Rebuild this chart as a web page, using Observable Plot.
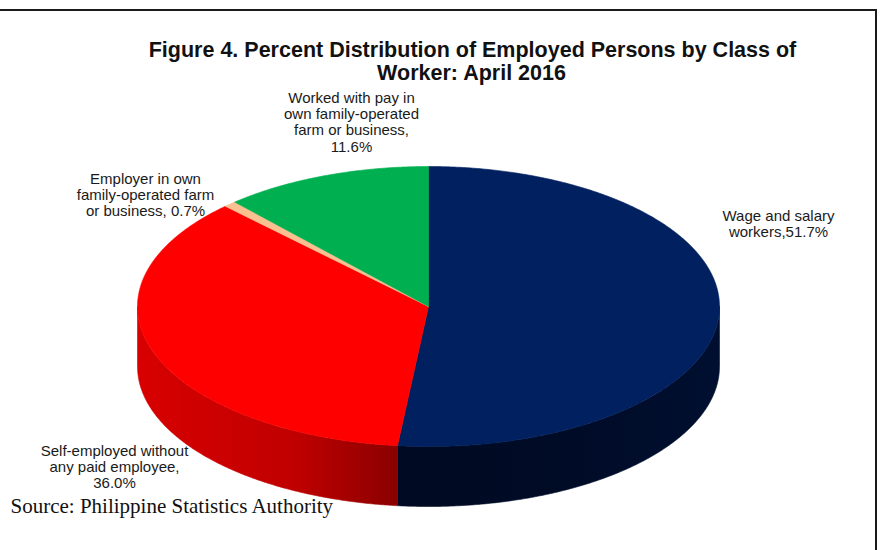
<!DOCTYPE html>
<html><head><meta charset="utf-8">
<script src="https://cdn.jsdelivr.net/npm/d3@7"></script>
<script src="https://cdn.jsdelivr.net/npm/@observablehq/plot@0.6"></script>
<style>
body{margin:0;background:#fff;}
#wrap{position:relative;width:888px;height:550px;overflow:hidden;}
#border{position:absolute;left:0;top:9px;width:875px;height:600px;border-top:2px solid #1a1a1a;border-right:2px solid #1a1a1a;pointer-events:none;}
#chart{position:absolute;left:0;top:0;}
</style></head><body><div id="wrap"><div id="chart"></div><div id="border"></div></div>
<script>
// ---- data ----
const titleLines = ["Figure 4. Percent Distribution of Employed Persons by Class of", "Worker: April 2016"];
const sourceText = "Source: Philippine Statistics Authority";
const categories = ["Wage and salary workers", "Self-employed without any paid employee", "Employer in own family-operated farm or business", "Worked with pay in own family-operated farm or business"];
const shares = [51.7, 36.0, 0.7, 11.6];
// label templates ({v} = value)
const labelTemplates = [
  ["Wage and salary", "workers,{v}%"],
  ["Self-employed without", "any paid employee,", "{v}%"],
  ["Employer in own", "family-operated farm", "or business, {v}%"],
  ["Worked with pay in", "own family-operated", "farm or business,", "{v}%"]
];
const topColors = ["#002060", "#FF0000", "#FAC090", "#00B050"];
const sideFills = ["url(#sideNavy)", "url(#sideRed)", "url(#sideTan)", "url(#sideGreen)"];

// ---- layout ----
const CX = 428, CY = 306, RX = 291, RY = 140, DEPTH_PX = 60;
const depth = DEPTH_PX / RY;
const labelFont = 15, labelLH = 1.1;
// label placement: [center x px, first baseline px]
const labelPlace = [[778, 220], [114, 455], [145, 183], [351, 102]];
const titleFont = 21.5;
const titlePlace = [[472, 56], [471, 79]];
const sourceFont = 21;

const toUx = px => (px - CX) / RX;
const toUy = py => (CY - py) / RY;

const slices = [];
let acc = 0;
shares.forEach((v, i) => {
  const a0 = acc / 100 * 2 * Math.PI; acc += v;
  const a1 = acc / 100 * 2 * Math.PI;
  slices.push({i, a0, a1});
});
const step = 0.4 * Math.PI / 180;
function arc(a0, a1, dy) {
  const n = Math.max(2, Math.ceil((a1 - a0) / step));
  return d3.range(n + 1).map(k => { const a = a0 + (a1 - a0) * k / n; return [Math.sin(a), Math.cos(a) - dy]; });
}
const tops = slices.flatMap(s => [[0, 0], ...arc(s.a0, s.a1, 0), [0, 0]]
  .map(([x, y]) => ({x, y, id: "t" + s.i, fill: topColors[s.i]})));
const sides = slices.flatMap(s => {
  const lo = Math.max(s.a0, Math.PI / 2), hi = Math.min(s.a1, 1.5 * Math.PI);
  if (hi <= lo) return [];
  const pts = [...arc(lo, hi, 0), ...arc(lo, hi, depth).reverse()];
  pts.push(pts[0]);
  return pts.map(([x, y]) => ({x, y, id: "s" + s.i, fill: sideFills[s.i]}));
});
const labels = labelTemplates.map((t, i) => ({
  text: t.map(l => l.replace("{v}", shares[i].toFixed(1))).join("\n"),
  x: toUx(labelPlace[i][0]),
  y: toUy(labelPlace[i][1] - 0.71 * labelLH * labelFont)
}));
const titles = titleLines.map((t, i) => ({text: t, x: toUx(titlePlace[i][0]), y: toUy(titlePlace[i][1])}));
const sources = [{text: sourceText, x: toUx(10), y: toUy(512)}];

const svg = Plot.plot({
  width: 888, height: 550,
  margin: 0,
  x: {domain: [-1, 1], range: [CX - RX, CX + RX], axis: null},
  y: {domain: [-1, 1], range: [CY + RY, CY - RY], axis: null},
  color: {type: "identity"},
  style: {background: "transparent"},
  marks: [
    Plot.line(sides, {x: "x", y: "y", z: "id", fill: "fill", stroke: "fill", strokeWidth: 0.6, curve: "linear"}),
    Plot.line(tops, {x: "x", y: "y", z: "id", fill: "fill", stroke: "fill", strokeWidth: 0.6, curve: "linear"}),
    Plot.text(labels, {x: "x", y: "y", text: "text", textAnchor: "middle", lineAnchor: "top",
      lineHeight: labelLH, fontSize: labelFont, fontFamily: "'Liberation Sans', Arial, sans-serif", fill: "#1a1a1a"}),
    Plot.text(titles, {x: "x", y: "y", text: "text", textAnchor: "middle", lineAnchor: "bottom",
      fontSize: titleFont, fontWeight: "bold", fontFamily: "'Liberation Sans', Arial, sans-serif", fill: "#111"}),
    Plot.text(sources, {x: "x", y: "y", text: "text", textAnchor: "start", lineAnchor: "bottom",
      fontSize: sourceFont, fontFamily: "'Liberation Serif', 'Times New Roman', serif", fill: "#111"})
  ]
});

d3.select(svg).insert("defs", ":first-child").html(`
  <linearGradient id="sideRed" gradientUnits="userSpaceOnUse" x1="${CX - RX}" y1="0" x2="${CX - 30}" y2="0">
    <stop offset="0" stop-color="#d80000"/><stop offset="0.6" stop-color="#c00000"/><stop offset="1" stop-color="#8a0000"/>
  </linearGradient>
  <linearGradient id="sideNavy" gradientUnits="userSpaceOnUse" x1="${CX - 30}" y1="0" x2="${CX + RX}" y2="0">
    <stop offset="0" stop-color="#000a22"/><stop offset="0.5" stop-color="#000b26"/><stop offset="1" stop-color="#000f30"/>
  </linearGradient>
  <linearGradient id="sideTan"><stop offset="0" stop-color="#c08a60"/></linearGradient>
  <linearGradient id="sideGreen"><stop offset="0" stop-color="#007a38"/></linearGradient>
`);
document.getElementById("chart").appendChild(svg);
</script></body></html>
